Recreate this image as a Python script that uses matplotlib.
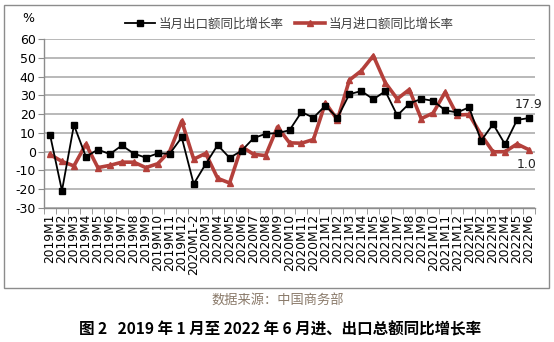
import matplotlib
matplotlib.use("Agg")
import matplotlib.pyplot as plt
from matplotlib.patches import Rectangle
from matplotlib.lines import Line2D

plt.rcParams['font.family'] = ['DejaVu Sans', 'Noto Sans CJK SC']
plt.rcParams['axes.unicode_minus'] = False

categories = (["2019M%d" % m for m in range(1, 13)] + ["2020M1-2"] +
              ["2020M%d" % m for m in range(3, 13)] +
              ["2021M%d" % m for m in range(1, 13)] +
              ["2022M%d" % m for m in range(1, 7)])

exports = [9.1, -20.8, 14.2, -2.7, 1.1, -1.3, 3.3, -1.0, -3.2, -0.9, -1.1, 7.6,
           -17.2, -6.6, 3.5, -3.3, 0.5, 7.2, 9.5, 9.9, 11.4, 21.1, 18.1,
           24.5, 18.0, 30.6, 32.3, 27.9, 32.2, 19.3, 25.6, 28.1, 27.1, 22.0, 20.9,
           23.6, 5.8, 14.7, 3.9, 16.9, 17.9]
imports = [-1.5, -5.2, -7.6, 4.0, -8.5, -7.3, -5.6, -5.6, -8.5, -6.4, 0.3, 16.3,
           -4.0, -0.9, -14.2, -16.7, 2.7, -1.4, -2.1, 13.2, 4.7, 4.5, 6.5,
           26.0, 17.0, 38.1, 43.1, 51.1, 36.7, 28.1, 33.1, 17.6, 20.6, 31.7, 19.5,
           19.8, 9.0, -0.1, 0.0, 4.1, 1.0]

export_label = "当月出口额同比增长率"
import_label = "当月进口额同比增长率"
source_text = "数据来源：中国商务部"
caption_text = "图 2   2019 年 1 月至 2022 年 6 月进、出口总额同比增长率"

W, H = 554, 342
fig = plt.figure(figsize=(W / 100, H / 100), dpi=100)
fig.patch.set_facecolor('white')

# chart border
fig.add_artist(Rectangle((4 / W, 1 - 288 / H), (549 - 4) / W, (288 - 5) / H,
                         transform=fig.transFigure, fill=False,
                         edgecolor='#8c8c8c', linewidth=1.0))

ax = fig.add_axes([44 / W, 1 - 208 / H, (535 - 44) / W, (208 - 39) / H])
x = list(range(len(categories)))
red = '#B4403B'
ax.plot(x, exports, color='black', lw=1.3, marker='s', ms=4.5, zorder=4)
ax.plot(x, imports, color=red, lw=2.6, marker='^', ms=5, zorder=3)

ax.set_xlim(-0.5, len(categories) - 0.5)
ax.set_ylim(-30, 60)
ax.set_yticks(range(-30, 61, 10))
ax.yaxis.grid(True, color='#a6a6a6', lw=1.1)
ax.set_axisbelow(True)
for s in ['top', 'right']:
    ax.spines[s].set_visible(False)
for s in ['left', 'bottom']:
    ax.spines[s].set_color('#8c8c8c')
    ax.spines[s].set_linewidth(1.0)
ax.set_xticks(x)
ax.set_xticklabels(categories, rotation=90, fontsize=8.8)
ax.tick_params(axis='x', length=0, pad=4)
ax.set_xticks([i - 0.5 for i in range(len(categories) + 1)], minor=True)
ax.tick_params(axis='x', which='minor', length=4, color='#8c8c8c', direction='out')
ax.tick_params(axis='y', length=4, color='#8c8c8c', labelsize=9, pad=2)

fig.text(28 / W, 1 - 19 / H, '%', fontsize=9, ha='center', va='center')

ax.annotate('17.9', (x[-1], exports[-1]), xytext=(0, 5), textcoords='offset points',
            ha='center', va='bottom', fontsize=9, color='#222222')
ax.annotate('1.0', (x[-1], imports[-1]), xytext=(-2, -6), textcoords='offset points',
            ha='center', va='top', fontsize=9, color='#222222')

handles = [Line2D([], [], color='black', lw=1.3, marker='s', ms=4.5),
           Line2D([], [], color=red, lw=2.6, marker='^', ms=5)]
fig.legend(handles, [export_label, import_label], loc='center', ncol=2,
           bbox_to_anchor=(289 / W, 1 - 24 / H), frameon=False,
           prop={'family': 'Noto Sans CJK SC', 'size': 9},
           handlelength=2.4, columnspacing=0.9, handletextpad=0.3,
           labelcolor='#404040')

fig.text(278 / W, 1 - 301 / H, source_text, ha='center', va='center',
         fontsize=9.5, color='#8a7a6a', family='Noto Sans CJK SC')
fig.text(280 / W, 1 - 329 / H, caption_text, ha='center', va='center',
         fontsize=11.2, fontweight='bold', family=['Noto Sans CJK SC', 'DejaVu Sans'])

fig.savefig('out.png', dpi=100)
